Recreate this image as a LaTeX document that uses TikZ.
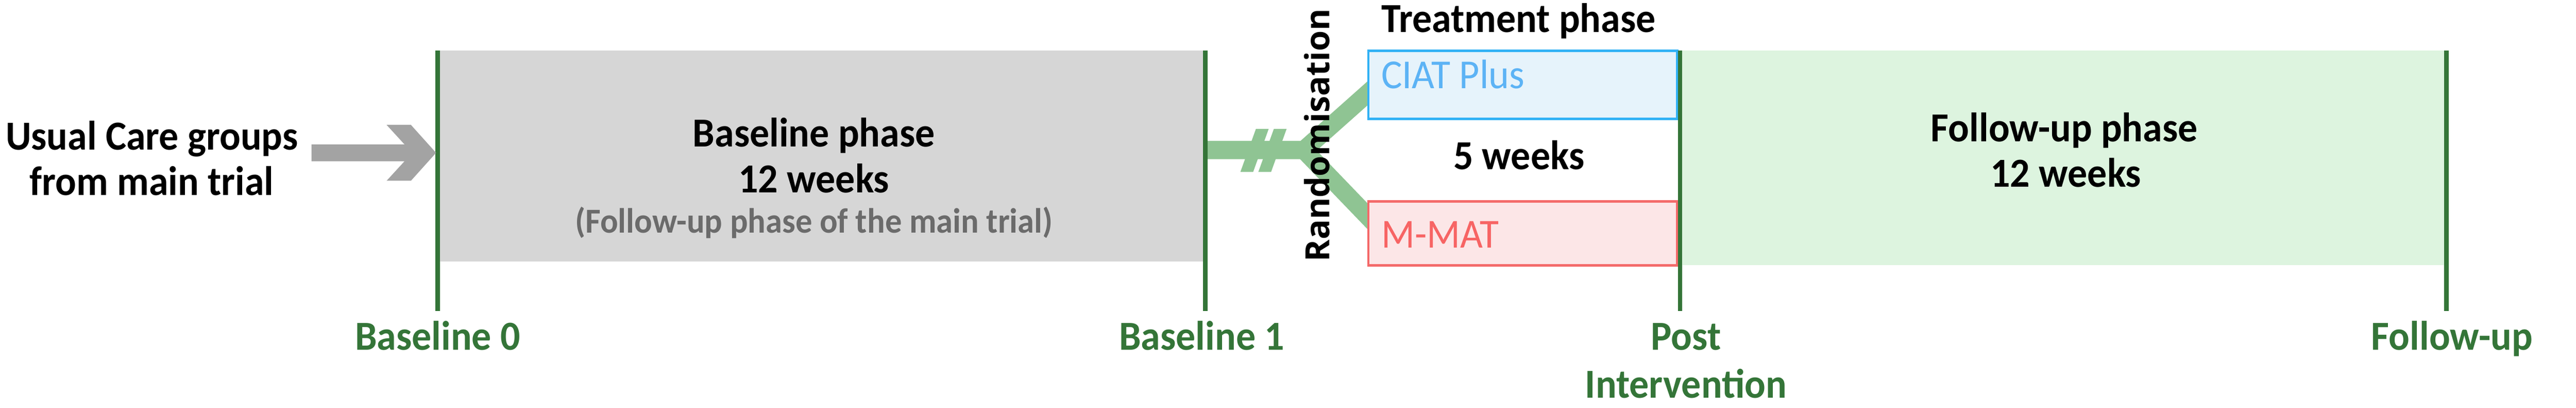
\documentclass[tikz,border=0pt]{standalone}
\usepackage{fontspec}
\setmainfont{Carlito}[FakeStretch=0.95]
\newfontfamily\randfont{Open Sans Bold}
\usetikzlibrary{calc}
\definecolor{tickgreen}{RGB}{52,117,56}
\definecolor{linkgreen}{RGB}{143,196,147}
\definecolor{basegray}{RGB}{214,214,214}
\definecolor{arrowgray}{RGB}{163,163,163}
\definecolor{subgray}{RGB}{107,107,107}
\definecolor{ciatline}{RGB}{51,178,245}
\definecolor{ciatfill}{RGB}{230,243,251}
\definecolor{ciattext}{RGB}{92,179,245}
\definecolor{mmatline}{RGB}{244,106,106}
\definecolor{mmatfill}{RGB}{252,230,231}
\definecolor{mmattext}{RGB}{247,100,100}
\definecolor{fupfill}{RGB}{221,244,223}

\begin{document}
\begin{tikzpicture}[inner sep=0pt,
		big/.style={font=\fontsize{29.4}{32.4}\selectfont\bfseries},
		timelabel/.style={font=\fontsize{29.4}{34.1}\selectfont\bfseries,text=tickgreen,align=center,anchor=base},
		tick/.style={draw=tickgreen,line width=0.11cm},
		link/.style={draw=linkgreen,line width=0.45cm,line join=miter}]
	\useasboundingbox (0,0) rectangle (64.63,10.22);

		% Phase boxes
		\fill[basegray] (10.98, 3.67) rectangle (30.24, 8.95);
		\fill[fupfill] (42.15, 3.57) rectangle (61.34, 8.95);

		% Time points
		\coordinate (B0) at (10.98, 8.95);
		\coordinate (B1) at (30.24, 8.95);
		\coordinate (PI) at (42.15, 8.95);
		\coordinate (FU) at (61.38, 8.95);

		% Randomisation fork
		\coordinate (fork) at (32.71, 6.46);
		\coordinate (toCIAT) at (34.32, 7.89);
		\coordinate (toMMAT) at (34.32, 4.79);
		\draw[link] (B1 |- fork) -- (fork) -- ($(fork)!1.25!(toCIAT)$);
		\draw[link] (B1 |- fork) -- (fork) -- ($(fork)!1.25!(toMMAT)$);
		\foreach \dx in {0, 0.45}
			\fill[linkgreen] (31.12+\dx, 5.91) -- (31.44+\dx, 5.91) -- (31.83+\dx, 6.99) -- (31.51+\dx, 6.99) -- cycle;

		% Treatment boxes
		\draw[ciatline,fill=ciatfill,line width=0.06cm] (34.33, 7.24) rectangle (42.08, 8.95);
		\draw[mmatline,fill=mmatfill,line width=0.06cm] (34.33, 3.57) rectangle (42.08, 5.17);

		% Vertical lines
		\foreach \t in {B0, B1, PI, FU}
			\draw[tick] (\t) -- (\t |- 0, 2.43);

		% Texts
		\node[big,align=center,anchor=base] (usual) at (3.81, 5.33) {Usual Care groups\\from main trial};
		\node[big,anchor=base] (basephase) at (20.42, 6.54) {Baseline phase};
		\node[big,anchor=base] (baseweeks) at (20.42, 5.39) {12 weeks};
		\node[font=\fontsize{25}{28}\selectfont\bfseries,text=subgray,anchor=base] (basenote) at (20.42, 4.39) {(Follow-up phase of the main trial)};
		\node[big,anchor=base] (treat) at (38.10, 9.41) {Treatment phase};
		\node[big,anchor=base] (fiveweeks) at (38.11, 5.97) {5 weeks};
		\node[font=\fontsize{29.4}{32}\selectfont,text=ciattext,anchor=base west] (ciat) at (34.65, 8.00) {CIAT Plus};
		\node[font=\fontsize{29.4}{32}\selectfont,text=mmattext,anchor=base west] (mmat) at (34.65, 4.01) {M-MAT};
		\node[font=\fontsize{23.8}{28}\selectfont\randfont,rotate=90,anchor=base] (rand) at (33.36, 6.83) {Randomisation};
		\node[big,anchor=base] (fupphase) at (51.79, 6.67) {Follow-up phase};
		\node[big,anchor=base] (fupweeks) at (51.83, 5.54) {12 weeks};

		% Time labels
		\node[timelabel] (lB0) at (10.98, 1.45) {Baseline 0};
		\node[timelabel] (lB1) at (30.15, 1.45) {Baseline 1};
		\node[timelabel] (lPI) at (42.30, 0.25) {Post\\Intervention};
		\node[timelabel] (lFU) at (61.52, 1.45) {Follow-up};

		% Entry arrow
		\coordinate (arrtip) at (10.94, 6.39);
		\fill[arrowgray] ($(usual.east |- arrtip)+(0.33,0.21)$) -- ($(arrtip)+(-0.79,0.21)$) -- ($(arrtip)+(-1.24,0.70)$) -- ($(arrtip)+(-0.63,0.70)$) -- (arrtip) -- ($(arrtip)+(-0.63,-0.70)$) -- ($(arrtip)+(-1.24,-0.70)$) -- ($(arrtip)+(-0.79,-0.21)$) -- ($(usual.east |- arrtip)+(0.33,-0.21)$) -- cycle;

	\end{tikzpicture}
\end{document}
